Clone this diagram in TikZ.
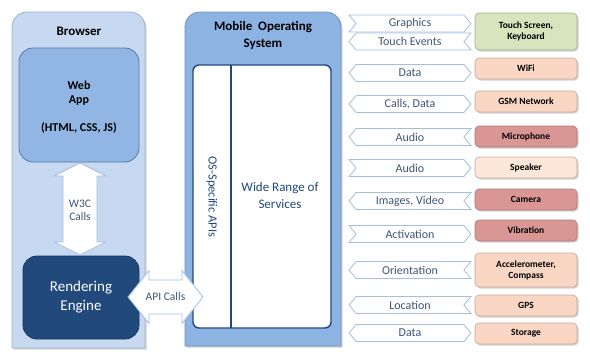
\documentclass[tikz,border=0pt]{standalone}
\usepackage{fontspec}
\setmainfont{Carlito}
\usetikzlibrary{shapes.symbols,shadows}

\definecolor{browserfill}{HTML}{C6D9F1}
\definecolor{browserline}{HTML}{A3B3C6}
\definecolor{osfill}{HTML}{8DB3E2}
\definecolor{osline}{HTML}{7393BB}
\definecolor{appfill}{HTML}{92B6E3}
\definecolor{appline}{HTML}{557AA8}
\definecolor{enginefill}{HTML}{21497C}
\definecolor{engineline}{HTML}{17375E}
\definecolor{navy}{HTML}{1F497D}
\definecolor{arrowline}{HTML}{A4BFE0}
\definecolor{labeltext}{HTML}{3E5678}
\definecolor{greenfill}{HTML}{D7E4BD}
\definecolor{greenline}{HTML}{A2AD90}
\definecolor{peachfill}{HTML}{FAD7C4}
\definecolor{peachline}{HTML}{C7A897}
\definecolor{palefill}{HTML}{FDE7DA}
\definecolor{rosefill}{HTML}{D99695}
\definecolor{roseline}{HTML}{B07877}

\tikzset{
  softshadow/.style={drop shadow={shadow xshift=1.5pt,shadow yshift=-1.5pt,opacity=0.3,fill=black!60}},
  panel/.style={line width=0.8pt, softshadow},
  blockarrow/.style={draw=arrowline, fill=white, line width=0.8pt},
  sigbox/.style={signal, signal pointer angle=100, draw=arrowline, fill=white,
    line width=0.8pt, minimum width=122pt, minimum height=17pt, inner sep=0pt,
    text=labeltext, font=\fontsize{12}{12}\selectfont},
  toeast/.style={signal to=east, signal from=west},
  towest/.style={signal to=west, signal from=east},
  twoway/.style={signal to=west and east, signal from=nowhere},
  devbox/.style={draw, rounded corners=4pt, minimum width=102pt, inner sep=1pt,
    align=center, text=black, line width=0.6pt, softshadow,
    font=\bfseries\fontsize{9.5}{11}\selectfont},
  greenbox/.style={devbox, fill=greenfill, draw=greenline},
  peachbox/.style={devbox, fill=peachfill, draw=peachline},
  palebox/.style={devbox, fill=palefill, draw=peachline},
  rosebox/.style={devbox, fill=rosefill, draw=roseline},
}

\begin{document}
\begin{tikzpicture}[x=1pt, y=-1pt]
\useasboundingbox (0,0) rectangle (590,359);

% ---------- Browser panel ----------
\path[panel, fill=browserfill, draw=browserline]
  (12,348) -- (12,27) .. controls (12,18.7) and (18.7,12) .. (27,12)
  -- (130,12) .. controls (138.3,12) and (145,18.7) .. (145,27)
  -- (145,348) -- cycle;
\node[font=\bfseries\fontsize{13}{15}\selectfont] (browser) at (79,31) {Browser};

\node[draw=appline, fill=appfill, line width=0.8pt, rounded corners=14pt,
      minimum width=120pt, minimum height=114pt] (webapp) at (79,105) {};
\node[align=center, font=\bfseries\fontsize{12}{14}\selectfont] (webtxt) at (79,93) {Web\\App};
\node[font=\bfseries\fontsize{12}{14}\selectfont] (webtech) at (79,128) {(HTML, CSS, JS)};

\node[draw=engineline, fill=enginefill, line width=0.8pt, rounded corners=14pt,
      minimum width=116pt, minimum height=83pt, text=white, align=center,
      font=\fontsize{15}{19}\selectfont] (engine) at (81,297.5) {Rendering\\Engine};

% W3C double arrow between web app and engine
\path[blockarrow] (80,163) -- (106,176) -- (97,176) -- (97,242) -- (106,242)
  -- (80,255) -- (54,242) -- (63,242) -- (63,176) -- (54,176) -- cycle;
\node[align=center, text=labeltext, font=\fontsize{11.5}{13}\selectfont] (w3c) at (80,210) {W3C\\Calls};

% ---------- Mobile OS panel ----------
\path[panel, fill=osfill, draw=osline]
  (185,346) -- (185,27) .. controls (185,18.7) and (191.7,12) .. (200,12)
  -- (326,12) .. controls (334.3,12) and (341,18.7) .. (341,27)
  -- (341,346) -- cycle;
\node[align=center, font=\bfseries\fontsize{13}{17}\selectfont] (ostitle) at (263,35) {Mobile\ \ Operating\\System};

\draw[navy, fill=white, line width=1.4pt, rounded corners=6pt] (193,65) rectangle (331,328);
\coordinate (divtop) at (231,65);
\coordinate (divbot) at (231,328);
\draw[navy, line width=1.4pt] (divtop) -- (divbot);
\node[rotate=-90, text=navy, font=\fontsize{12.5}{14}\selectfont] (osapi) at (212,197) {OS-Specific APIs};
\node[align=center, text=navy, font=\fontsize{13}{17}\selectfont] (services) at (280,195.5) {Wide Range of\\Services};

% API calls double arrow between engine and OS
\path[blockarrow] (128,297) -- (149,270.5) -- (149,280) -- (182,280) -- (182,270.5)
  -- (203,297) -- (182,323.5) -- (182,314) -- (149,314) -- (149,323.5) -- cycle;
\node[text=labeltext, font=\fontsize{11.5}{13}\selectfont] (api) at (165.5,297) {API Calls};

% ---------- Data flows ----------
\node[sigbox, toeast] (sgraphics) at (410,23.5) {Graphics};
\node[sigbox, towest] (stouch)    at (410,41.5) {Touch Events};
\node[sigbox, twoway] (swifi)     at (410,73)   {Data};
\node[sigbox, twoway] (sgsm)      at (410,104)  {Calls, Data};
\node[sigbox, towest] (smic)      at (410,137)  {Audio};
\node[sigbox, toeast] (sspeaker)  at (410,168)  {Audio};
\node[sigbox, towest] (scamera)   at (410,201)  {Images, Video};
\node[sigbox, toeast] (svibra)    at (410,234)  {Activation};
\node[sigbox, towest] (saccel)    at (410,270)  {Orientation};
\node[sigbox, towest] (sgps)      at (410,305)  {Location};
\node[sigbox, twoway] (sstorage)  at (410,333)  {Data};

% ---------- Devices ----------
\node[greenbox, minimum height=37pt] (touch)   at (526,31.5)  {Touch Screen,\\Keyboard};
\node[peachbox, minimum height=21pt] (wifi)    at (526,68.5)  {WiFi};
\node[peachbox, minimum height=21pt] (gsm)     at (526,101.5) {GSM Network};
\node[rosebox,  minimum height=21pt] (mic)     at (526,136.5) {Microphone};
\node[palebox,  minimum height=21pt] (speaker) at (526,167.5) {Speaker};
\node[rosebox,  minimum height=21pt] (camera)  at (526,199.5) {Camera};
\node[rosebox,  minimum height=21pt] (vibra)   at (526,230.5) {Vibration};
\node[peachbox, minimum height=34pt] (accel)   at (526,270)   {Accelerometer,\\Compass};
\node[peachbox, minimum height=21pt] (gps)     at (526,305.5) {GPS};
\node[peachbox, minimum height=21pt] (storage) at (526,333.5) {Storage};
\end{tikzpicture}
\end{document}
